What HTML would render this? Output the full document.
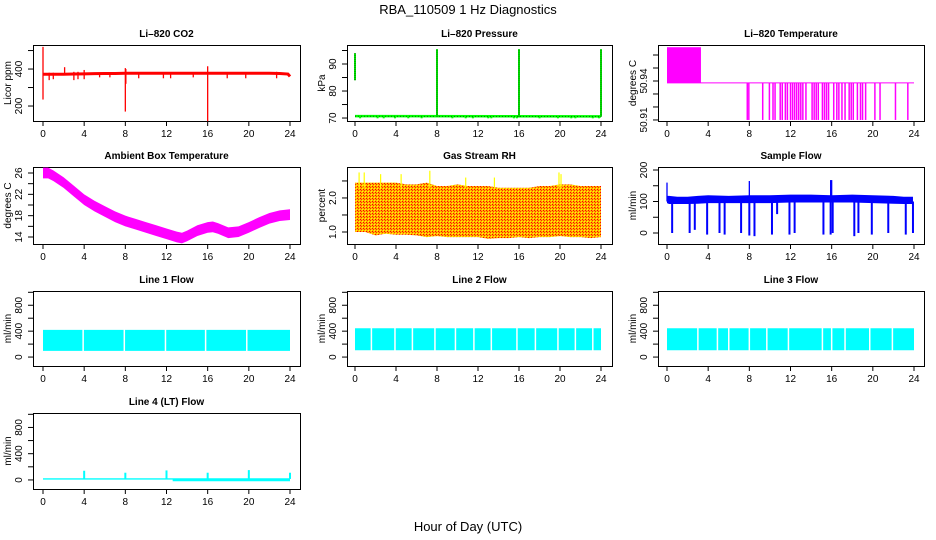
<!DOCTYPE html>
<html><head><meta charset="utf-8">
<style>
body{margin:0;background:#fff;}
svg{display:block;font-family:"Liberation Sans",sans-serif;}
.t{font-size:10px;font-weight:bold;}
.tk{font-size:10px;}
</style></head>
<body>
<svg id="c" width="936" height="540" viewBox="0 0 936 540">
<defs>
<pattern id="chk" width="3" height="3" patternUnits="userSpaceOnUse">
<rect width="3" height="3" fill="#ffb000"/>
<rect x="0" y="0" width="1" height="1" fill="#ff0000"/>
<rect x="2" y="2" width="1" height="1" fill="#ffff00"/>
<rect x="1" y="1" width="1" height="1" fill="#ff3000"/>
</pattern>
</defs>
<text x="468" y="14" text-anchor="middle" font-size="13">RBA_110509  1 Hz Diagnostics</text>
<text x="468" y="531" text-anchor="middle" font-size="13">Hour of Day (UTC)</text>
</svg>
<script>
// ---- data ----
const xTicks=[0,4,8,12,16,20,24];
const co2Hours=[0,1,2,3,4,5,6,7,8,9,10,11,12,13,14,15,16,17,18,19,20,21,22,23,23.8,24];
const co2Vals=[372,372,372,373,374,375,376,376,377,377,377,377,377,377,377,377,377,377,377,377,377,377,377,376,373,360];
const co2SpikeHours=[0,8,8.05,16,2.1,0.6,1,3,3.4,4,5.5,6.5,9.3,11.7,12.4,14.6,17.9,19.7,22.7];
const co2SpikeLow=[235,170,320,118,370,340,345,340,345,345,355,355,350,350,350,355,350,350,350];
const co2SpikeHigh=[520,405,400,415,410,380,380,385,385,395,380,380,380,380,380,380,380,380,385];
const presHours=[0,24];
const presVals=[70.7,70.6];
const presSpikeHours=[0,8,16,24];
const presSpikeLow=[84,70.5,70.5,70.5];
const presSpikeHigh=[94,95.5,95.5,95.5];
const presDipHours=[0.5,2.2,2.8,3.9,5.2,6.5,9.5,10.8,11.5,13,13.3,15.5,15.8,18,19.8,21.1,21.5,23.2,23.8];
const tempBlock=[0,3.3,50.966];
const tempBase=50.9385;
const tempDropHours=[7.8,7.95,9.3,9.95,10.3,10.5,11,11.2,11.5,11.7,12,12.2,12.4,12.6,12.8,13,13.2,13.5,14.1,14.3,14.5,14.7,15.1,15.3,15.5,15.7,16.2,16.5,16.7,17,17.3,17.7,17.9,18.1,18.5,18.8,19,19.3,20.2,20.7,22.2,23.4];
const ambHours=[0,0.5,1,2,3,4,5,6,7,8,9,10,11,12,13,13.5,14,15,16,16.5,17,18,19,20,21,22,23,24];
const ambVals=[26,26,25.5,24.2,22.6,21,19.8,18.8,17.8,17,16.4,15.8,15.2,14.6,14,13.8,14.2,15.2,15.8,15.9,15.6,14.8,15,15.8,16.7,17.5,18,18.2];
const rhHours=[0,1,2,3,4,5,6,7,8,9,10,11,12,13,14,15,16,17,18,19,20,21,22,23,24];
const rhHigh=[2.45,2.45,2.45,2.45,2.45,2.4,2.4,2.45,2.35,2.35,2.4,2.35,2.35,2.35,2.3,2.3,2.3,2.3,2.35,2.35,2.4,2.4,2.35,2.35,2.35];
const rhLow=[1.0,1.0,0.9,0.95,0.92,0.92,0.9,0.85,0.88,0.85,0.85,0.85,0.85,0.8,0.82,0.82,0.85,0.82,0.85,0.85,0.88,0.85,0.85,0.82,0.85];
const rhSpikeHours=[0.4,0.9,2.5,4.5,7.3,10.8,13.6,19.9,20.1];
const rhSpikeVals=[2.75,2.75,2.7,2.7,2.8,2.6,2.6,2.75,2.7];
const sfHours=[0,0.2,1,2,3,4,6,8,10,12,14,16,18,20,22,23,23.9];
const sfLow=[95,92,92,92,93,95,95,95,95,97,97,97,97,95,93,92,92];
const sfHigh=[160,118,115,115,118,120,118,120,120,122,122,120,122,120,118,115,115];
const sfDropHours=[0.5,2.2,2.7,3.9,5.1,5.6,7.2,8,8.5,10.2,10.7,11.9,12.4,15.2,15.9,16.1,18.2,18.6,19.9,21.5,23.2,23.9];
const sfDropVals=[0,0,10,-5,0,-5,0,-8,-10,-5,60,-5,0,-5,-5,0,-10,0,-5,0,-5,0];
const sfUpHours=[8,15.9,16];
const sfUpVals=[165,168,168];
const l1Band=[95,420]; const l1Gaps=[3.9,7.9,11.9,15.8,19.8];
const l2Band=[105,445]; const l2Gaps=[1.6,3.9,5.6,7.8,9.8,11.6,13.3,15.8,17.6,19.8,21.5,23.2];
const l3Band=[105,445]; const l3Gaps=[3,4.9,6,8,9.7,11.8,15.1,16,17.3,19.7,21.9];
const l4Base=15; const l4NoiseStart=12.6; const l4NoiseLow=-20;
const l4SpikeHours=[4,8,12,16,20,24];
const l4SpikeVals=[140,110,145,110,150,110];

// ---- layout ----
const svg=document.getElementById('c');
const NS='http://www.w3.org/2000/svg';
const cols=[[33,300,43,290],[347,612,355,601],[658,924,667,914]];
const rows=[[45,121],[167,244],[291,366],[413,489]];
function el(tag,attrs,parent){const e=document.createElementNS(NS,tag);for(const k in attrs)e.setAttribute(k,attrs[k]);(parent||svg).appendChild(e);return e;}
function panel(name,title,ylab,col,row,ymin,ymax,ticks,labels){
  const g=el('g',{});
  
  
  const [bl,br,x0,x24]=cols[col];const [bt,bb]=rows[row];
  const sx=h=>x0+(x24-x0)*h/24;
  const sy=v=>bb-(v-ymin)/(ymax-ymin)*(bb-bt);
  const box=el('rect',{x:bl+.5,y:bt+.5,width:br-bl,height:bb-bt,fill:'none',stroke:'#000','stroke-width':1},g);
  
  
  const tt=el('text',{x:(bl+br)/2,y:bt-8,'text-anchor':'middle',class:'t'},g);tt.textContent=title;
  
  
  xTicks.forEach(h=>{el('line',{x1:sx(h),x2:sx(h),y1:bb,y2:bb+5,stroke:'#000'},g);
    const t=el('text',{x:sx(h),y:bb+16,'text-anchor':'middle',class:'tk'},g);t.textContent=h;
    
    });
  ticks.forEach(v=>{el('line',{x1:bl-5,x2:bl,y1:sy(v),y2:sy(v),stroke:'#000'},g);});
  labels.forEach(v=>{const t=el('text',{x:bl-11,y:sy(v),'text-anchor':'middle',class:'tk',transform:`rotate(-90 ${bl-11} ${sy(v)})`},g);t.textContent=v;
    
    });
  const yl=el('text',{x:bl-22,y:(bt+bb)/2,'text-anchor':'middle',class:'tk',transform:`rotate(-90 ${bl-22} ${(bt+bb)/2})`},g);yl.textContent=ylab;
  
  
  const d=el('g',{},g);
  
  
  return {sx,sy,g:d};
}
function poly(p,xs,ys,color,w){const pts=xs.map((h,i)=>p.sx(h)+','+p.sy(ys[i])).join(' ');
  const e=el('polyline',{points:pts,fill:'none',stroke:color,'stroke-width':w},p.g);
  
  return e;}
function vseg(p,h,a,b,color,w){const e=el('line',{x1:p.sx(h),x2:p.sx(h),y1:p.sy(a),y2:p.sy(b),stroke:color,'stroke-width':w||1},p.g);
  
  return e;}
function band(p,xs,lo,hi,fill){const top=xs.map((h,i)=>p.sx(h)+','+p.sy(hi[i]));const bot=xs.map((h,i)=>p.sx(h)+','+p.sy(lo[i])).reverse();
  const e=el('polygon',{points:top.concat(bot).join(' '),fill:fill},p.g);
  
  return e;}

// CO2
let p=panel('co2-panel','Li\u2013820 CO2','Licor ppm',0,0,119,530,[200,300,400,500],[200,400]);
poly(p,co2Hours,co2Vals,'#f00',3);
co2SpikeHours.forEach((h,i)=>vseg(p,h,co2SpikeLow[i],co2SpikeHigh[i],'#f00',1.3));
// Pressure
p=panel('pressure-panel','Li\u2013820 Pressure','kPa',1,0,68.9,97.04,[70,75,80,85,90,95],[70,80,90]);
poly(p,presHours,presVals,'#0f0',2.5);
presDipHours.forEach(h=>vseg(p,h,69.9,70.7,'#0f0',2));
poly(p,presHours,presVals,'#000',0.5).setAttribute('stroke-dasharray','1 2');
presSpikeHours.forEach((h,i)=>{vseg(p,h,presSpikeLow[i],presSpikeHigh[i],'#0f0',2);vseg(p,h,presSpikeLow[i],presSpikeHigh[i],'#000',0.8).setAttribute('stroke-dasharray','1 1');});
// Temperature
p=panel('temperature-panel','Li\u2013820 Temperature','degrees C',2,0,50.9092,50.9677,[50.91,50.92,50.93,50.94,50.95,50.96],[50.91,50.94]);
{const r=el('rect',{x:p.sx(tempBlock[0]),y:p.sy(tempBlock[2]),width:p.sx(tempBlock[1])-p.sx(tempBlock[0]),height:p.sy(tempBase)-p.sy(tempBlock[2]),fill:'#f0f'},p.g);

}
poly(p,[0,24],[tempBase,tempBase],'#f0f',1);
tempDropHours.forEach(h=>vseg(p,h,50.91,tempBase,'#f0f',1.5));
// Ambient
p=panel('ambient-temp-panel','Ambient Box Temperature','degrees C',0,1,12.69,27.125,[14,16,18,20,22,24,26],[14,18,22,26]);
band(p,ambHours,ambVals.map(v=>v-1),ambVals.map(v=>v+1),'#f0f');
// RH
p=panel('gas-rh-panel','Gas Stream RH','percent',1,1,0.647,2.91,[1.0,1.5,2.0,2.5],['1.0','2.0']);
band(p,rhHours,rhLow,rhHigh,'url(#chk)');
rhSpikeHours.forEach((h,i)=>vseg(p,h,2.3,rhSpikeVals[i],'#ff0',1.2));
// Sample flow
p=panel('sample-flow-panel','Sample Flow','ml/min',2,1,-34.9,209.5,[0,50,100,150,200],[0,100,200]);
band(p,sfHours,sfLow,sfHigh.map((v,i)=>i===0?sfHigh[1]:v),'#00f');
sfDropHours.forEach((h,i)=>vseg(p,h,sfDropVals[i],100,'#00f',2));
sfUpHours.forEach((h,i)=>vseg(p,h,100,sfUpVals[i],'#00f',1.3));
vseg(p,0,100,sfHigh[0],'#00f',1.3);
// Line flows
function flowPanel(name,title,col,row,b,gaps){
  const q=panel(name,title,'ml/min',col,row,-138,1020,[0,200,400,600,800,1000],[0,400,800]);
  band(q,[0,24],[b[0],b[0]],[b[1],b[1]],'#0ff');
  gaps.forEach(h=>vseg(q,h,b[0]-5,b[1]+5,'#fff',1.5));
  return q;}
flowPanel('line1-flow-panel','Line 1 Flow',0,2,l1Band,l1Gaps);
flowPanel('line2-flow-panel','Line 2 Flow',1,2,l2Band,l2Gaps);
flowPanel('line3-flow-panel','Line 3 Flow',2,2,l3Band,l3Gaps);
p=panel('line4-flow-panel','Line 4 (LT) Flow','ml/min',0,3,-138,1020,[0,200,400,600,800,1000],[0,400,800]);
band(p,[0,24],[l4Base-10,l4Base-10],[l4Base+10,l4Base+10],'#0ff');
band(p,[l4NoiseStart,24],[l4NoiseLow,l4NoiseLow],[l4Base,l4Base],'#0ff');
l4SpikeHours.forEach((h,i)=>vseg(p,h,l4Base,l4SpikeVals[i],'#0ff',2));
</script>
</body></html>
